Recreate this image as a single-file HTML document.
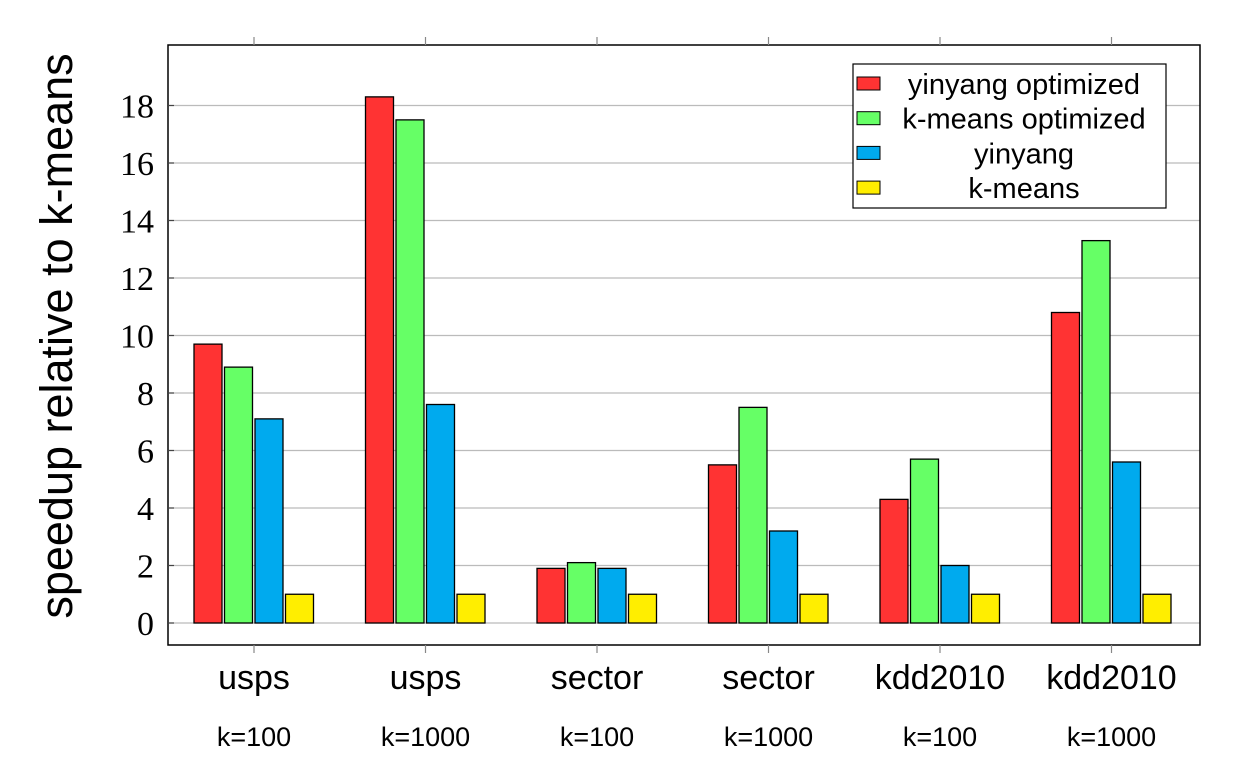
<!DOCTYPE html>
<html><head><meta charset="utf-8"><style>
body{margin:0;background:#fff}
svg{display:block}
text{font-family:"Liberation Sans",sans-serif;fill:#000}
text.serif{font-family:"Liberation Serif",serif}
</style></head><body>
<svg id="chart" width="1253" height="783" viewBox="0 0 1253 783">
<g id="grid"></g>
<g id="bars"></g>
<rect x="168" y="45" width="1032" height="600" fill="none" stroke="#000" stroke-width="1.5"/>
<g id="axes"></g>
<text transform="translate(72,336) rotate(-90)" text-anchor="middle" font-size="45">speedup relative to k-means</text>
<g>
<rect x="853" y="64" width="313" height="144" fill="#fff" stroke="#000" stroke-width="1.2"/>
<g id="legend-entries"></g>
</g>
</svg>
<script>
const categories=["usps","usps","sector","sector","kdd2010","kdd2010"];
const subLabels=["k=100","k=1000","k=100","k=1000","k=100","k=1000"];
const seriesNames=["yinyang optimized","k-means optimized","yinyang","k-means"];
const yinyangOpt=[9.7,18.3,1.9,5.5,4.3,10.8];
const kmeansOpt=[8.9,17.5,2.1,7.5,5.7,13.3];
const yinyang=[7.1,7.6,1.9,3.2,2.0,5.6];
const kmeans=[1,1,1,1,1,1];
const yTicks=[0,2,4,6,8,10,12,14,16,18];

const series=[yinyangOpt,kmeansOpt,yinyang,kmeans];
const colors=["#ff3333","#66ff66","#00aaee","#ffee00"];
const NS="http://www.w3.org/2000/svg";
const X0=168,X1=1200,Y0=45,Y1=645;
const y=v=>623-v*28.75;
const groupW=171.5, groupStart=254;
const xc=i=>groupStart+i*groupW;
function mk(tag,attrs,parent){const e=document.createElementNS(NS,tag);for(const k in attrs)e.setAttribute(k,attrs[k]);parent.appendChild(e);return e;}
const grid=document.getElementById('grid'),bars=document.getElementById('bars'),axes=document.getElementById('axes');
yTicks.forEach(t=>{
 const l=mk('line',{x1:X0,x2:X1,y1:y(t),y2:y(t),stroke:'#bbb','stroke-width':1.2},grid);
 
 
 const tk=mk('line',{x1:X0,x2:X0+6,y1:y(t),y2:y(t),stroke:'#444','stroke-width':1.2},axes);
 
 
 const tx=mk('text',{x:154,y:y(t)+12,'text-anchor':'end','font-size':34,'class':'serif'},axes);
 tx.textContent=t;
 
 
});
const bw=28,pitch=30.5;
categories.forEach((c,i)=>{
 series.forEach((s,j)=>{
  const x=xc(i)-60+j*pitch;
  const r=mk('rect',{x:x,y:y(s[i]),width:bw,height:y(0)-y(s[i]),fill:colors[j],stroke:'#000','stroke-width':1.3},bars);
  
  
 });
 [[Y1,Y1+8],[Y0-8,Y0]].forEach(p=>{
  const tk=mk('line',{x1:xc(i),x2:xc(i),y1:p[0],y2:p[1],stroke:'#888','stroke-width':1.2},axes);
  
  
 });
 const t1=mk('text',{x:xc(i),y:689,'text-anchor':'middle','font-size':34},axes);
 t1.textContent=c;
 
 
 const t2=mk('text',{x:xc(i),y:746,'text-anchor':'middle','font-size':27},axes);
 t2.textContent=subLabels[i];
 
 
});
const le=document.getElementById('legend-entries');
seriesNames.forEach((n,j)=>{
 const yy=77+j*34.7;
 const r=mk('rect',{x:857,y:yy,width:23,height:13,fill:colors[j],stroke:'#000','stroke-width':1},le);
 
 
 const t=mk('text',{x:1024,y:yy+17,'text-anchor':'middle','font-size':29},le);
 t.textContent=n;
 
 
});
</script>
</body></html>
